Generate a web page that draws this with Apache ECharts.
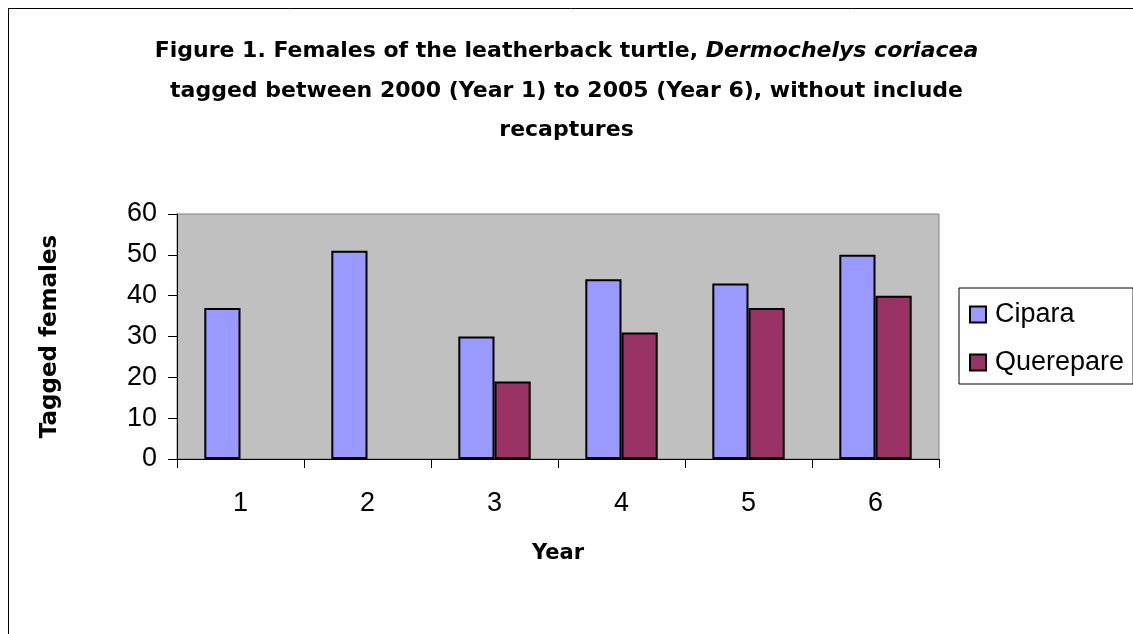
<!DOCTYPE html>
<html>
<head>
<meta charset="utf-8">
<script src="https://cdn.jsdelivr.net/npm/echarts@6/dist/echarts.min.js"></script>
<style>
  html, body { margin: 0; padding: 0; background: #fff; }
  #main { width: 1133px; height: 634px; }
</style>
</head>
<body>
<div id="main"></div>
<script>
// data
const years = ['1', '2', '3', '4', '5', '6'];
const cipara = [37, 51, 30, 44, 43, 50];
const querepare = [null, null, 19, 31, 37, 40];

const chart = echarts.init(document.getElementById('main'));
const font = '"Liberation Sans", Arial, sans-serif';
const boldFont = '"DejaVu Sans", Verdana, sans-serif';

const option = {
  backgroundColor: '#fff',
  animation: false,
  textStyle: { fontFamily: font, color: '#000' },
  title: {
    left: 'center',
    top: 27,
    text: '{b|Figure 1. Females of the leatherback turtle, }{i|Dermochelys coriacea}\n' +
          '{b|tagged between 2000 (Year 1) to 2005 (Year 6), without include}\n' +
          '{b|recaptures}',
    textStyle: {
      fontFamily: boldFont,
      fontSize: 22,
      lineHeight: 39.5,
      align: 'center',
      rich: {
        b: { fontFamily: boldFont, fontSize: 22, fontWeight: 'bold', color: '#000', lineHeight: 39.5 },
        i: { fontFamily: boldFont, fontSize: 22, fontWeight: 'bold', fontStyle: 'italic', color: '#000', lineHeight: 39.5 }
      }
    }
  },
  graphic: [
    { type: 'line', shape: { x1: 8, y1: 8.5, x2: 1133, y2: 8.5 }, style: { stroke: '#000', lineWidth: 1 } },
    { type: 'line', shape: { x1: 8.5, y1: 8, x2: 8.5, y2: 634 }, style: { stroke: '#000', lineWidth: 1 } }
  ],
  legend: {
    orient: 'vertical',
    left: 959,
    top: 288,
    padding: [13, 9, 8, 10],
    itemGap: 21,
    itemWidth: 16,
    itemHeight: 16,
    icon: 'rect',
    borderColor: '#000',
    borderWidth: 1,
    backgroundColor: '#fff',
    textStyle: { fontSize: 27, color: '#000', fontFamily: font, padding: [0, 0, 0, 4] },
    itemStyle: { borderColor: '#000', borderWidth: 2 },
    data: ['Cipara', 'Querepare']
  },
  grid: {
    left: 177,
    top: 214,
    width: 762,
    height: 245,
    show: true,
    backgroundColor: '#C0C0C0',
    borderColor: '#808080',
    borderWidth: 1
  },
  xAxis: {
    type: 'category',
    data: years,
    name: 'Year',
    nameLocation: 'middle',
    nameGap: 84,
    nameTextStyle: { fontSize: 21, fontWeight: 'bold', color: '#000', fontFamily: boldFont },
    axisLine: { show: true, lineStyle: { color: '#000', width: 1 } },
    axisTick: { show: true, alignWithLabel: false, length: 9, lineStyle: { color: '#000' } },
    axisLabel: { fontSize: 27, color: '#000', margin: 31, fontFamily: font },
    splitLine: { show: false }
  },
  yAxis: {
    type: 'value',
    min: 0,
    max: 60,
    interval: 10,
    name: 'Tagged females',
    nameLocation: 'middle',
    nameGap: 115,
    nameRotate: 90,
    nameTextStyle: { fontSize: 23, fontWeight: 'bold', color: '#000', fontFamily: boldFont },
    axisLine: { show: true, lineStyle: { color: '#000', width: 1 } },
    axisTick: { show: true, length: 9, lineStyle: { color: '#000' } },
    axisLabel: { fontSize: 27, color: '#000', margin: 20, fontFamily: font },
    splitLine: { show: false }
  },
  series: [
    {
      name: 'Cipara',
      type: 'bar',
      data: cipara,
      barGap: '0%',
      barCategoryGap: '43%',
      itemStyle: { color: '#9999FF', borderColor: '#000', borderWidth: 2 }
    },
    {
      name: 'Querepare',
      type: 'bar',
      data: querepare,
      itemStyle: { color: '#993366', borderColor: '#000', borderWidth: 2 }
    }
  ]
};

chart.setOption(option);
window.addEventListener('resize', () => chart.resize());
</script>
</body>
</html>
